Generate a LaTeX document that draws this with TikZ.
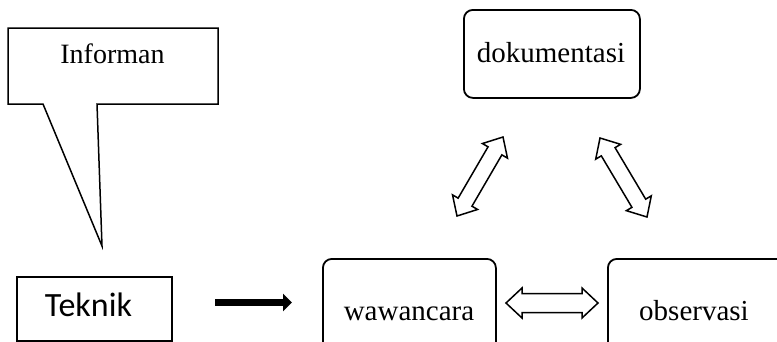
\documentclass[tikz,border=0pt]{standalone}
\usepackage{fontspec}
\setmainfont{Liberation Serif}
\newfontfamily\calfont{Carlito}
\usetikzlibrary{calc,arrows.meta}
\tikzset{
  rbox/.style={draw, line width=1.8pt, rounded corners=9pt, inner sep=0pt},
  sbox/.style={draw, line width=1.5pt, inner sep=0pt},
  txt/.style={font=\fontsize{29}{33}\selectfont, inner sep=0pt},
  blockarrow/.style={draw, line width=1.5pt, fill=white, line join=miter},
}
\newcommand{\blockdbl}[5]{%
  \coordinate (hA) at ($(#1)!#3!(#2)$);
  \coordinate (hB) at ($(#2)!#3!(#1)$);
  \draw[blockarrow] (#1) -- ($(hA)!#4!90:(#2)$) -- ($(hA)!#5!90:(#2)$)
    -- ($(hB)!#5!-90:(#1)$) -- ($(hB)!#4!-90:(#1)$) -- (#2)
    -- ($(hB)!#4!90:(#1)$) -- ($(hB)!#5!90:(#1)$)
    -- ($(hA)!#5!-90:(#2)$) -- ($(hA)!#4!-90:(#2)$) -- cycle;}
\begin{document}
\begin{tikzpicture}[x=1pt,y=-1pt]
\useasboundingbox (0,0) rectangle (777,341);
\clip (0,0) rectangle (777,341);
% callout
\draw[line width=1.5pt, line join=miter] (8,28) -- (218,28) -- (218,104) -- (97,104) -- (102,246) -- (43,104) -- (8,104) -- cycle;
\node[txt, anchor=base, font=\fontsize{28}{32}\selectfont] (informan) at (112.5,63) {Informan};
% Teknik
\node[sbox, minimum width=155pt, minimum height=64pt, anchor=north west] (teknik) at (16,276) {};
\node[inner sep=0pt, anchor=base, font=\calfont\fontsize{34}{40}\selectfont] (teknikt) at (88.5,316) {Teknik};
% thick arrow
\coordinate (ta) at (215,302.5);
\coordinate (tb) at (292,302.5);
\draw[line width=7pt, -{Triangle[length=9pt,width=17pt]}] (ta) -- (tb);
% boxes
\node[rbox, minimum width=176pt, minimum height=88pt, anchor=north west] (dok) at (463,9) {};
\node[txt, anchor=base] (dokt) at (551,62) {dokumentasi};
\node[rbox, minimum width=173pt, minimum height=112pt, anchor=north west] (waw) at (322,258) {};
\node[txt, anchor=base] (wawt) at (409,320) {wawancara};
\node[rbox, minimum width=190pt, minimum height=112pt, anchor=north west] (obs) at (607,258) {};
\node[txt, anchor=base] (obst) at (694,320) {observasi};
% block double arrows
\coordinate (h1) at (506,303);
\coordinate (h2) at (598,303);
\blockdbl{h1}{h2}{16pt}{15pt}{9.5pt}
\coordinate (l1) at (457,216);
\coordinate (l2) at (503,137);
\blockdbl{l1}{l2}{16pt}{14.5pt}{8pt}
\coordinate (r1) at (600,138);
\coordinate (r2) at (647,217);
\blockdbl{r1}{r2}{16pt}{14.5pt}{8pt}
\end{tikzpicture}
\end{document}
